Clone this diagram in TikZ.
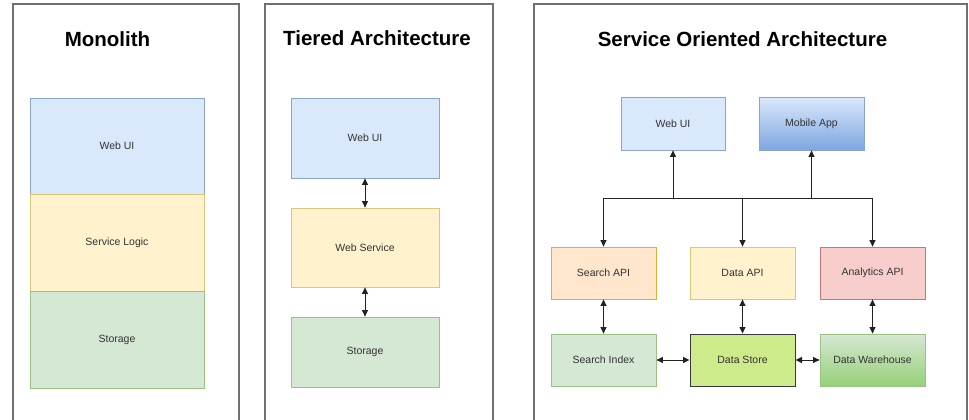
\documentclass[tikz,border=0pt]{standalone}
\usepackage{fontspec}
\setmainfont{Liberation Sans}
\usetikzlibrary{arrows.meta}
\definecolor{txt}{HTML}{333333}
\definecolor{panelc}{HTML}{707070}
\definecolor{bluef}{HTML}{DAE8FC}\definecolor{blues}{HTML}{6C8EBF}
\definecolor{bluedark}{HTML}{7EA6E0}
\definecolor{yelf}{HTML}{FFF2CC}\definecolor{yels}{HTML}{D6B656}
\definecolor{grnf}{HTML}{D5E8D4}\definecolor{grns}{HTML}{82B366}
\definecolor{grndark}{HTML}{97D077}
\definecolor{orf}{HTML}{FFE6CC}\definecolor{ors}{HTML}{D79B00}
\definecolor{redf}{HTML}{F8CECC}\definecolor{reds}{HTML}{B85450}
\definecolor{limef}{HTML}{CDEB8B}\definecolor{limes}{HTML}{36393D}
\definecolor{arrc}{HTML}{222222}
\begin{document}
\begin{tikzpicture}[x=1pt,y=-1pt,
  panel/.style={draw=panelc, line width=1.2pt},
  ttl/.style={font=\fontsize{20.5}{24}\selectfont\bfseries, text=black, anchor=base},
  box/.style={draw, line width=0.8pt, font=\fontsize{10.5}{12}\selectfont, text=txt, inner sep=0pt},
  bb/.style={box, fill=bluef, draw=blues!80},
  yb/.style={box, fill=yelf, draw=yels!80},
  gb/.style={box, fill=grnf, draw=grns!80},
  ob/.style={box, fill=orf, draw=ors!80},
  rb/.style={box, fill=redf, draw=reds!80},
  arr/.style={draw=arrc, line width=0.9pt, -{Triangle[length=6.5pt,width=6pt]}},
  darr/.style={draw=arrc, line width=0.9pt, {Triangle[length=6.5pt,width=6pt]}-{Triangle[length=6.5pt,width=6pt]}},
  bus/.style={draw=arrc, line width=0.9pt}
]
\useasboundingbox[fill=white] (0,0) rectangle (969,420);
% panels
\draw[panel] (13,421) -- (13,4) -- (239,4) -- (239,421);
\draw[panel] (265,421) -- (265,4) -- (493,4) -- (493,421);
\draw[panel] (534,421) -- (534,4) -- (967,4) -- (967,421);
% titles
\node[ttl] (t1) at (107.5,47) {Monolith};
\node[ttl] (t2) at (377,46) {Tiered Architecture};
\node[ttl] (t3) at (742.5,47) {Service Oriented Architecture};
% monolith
\node[bb, minimum width=174pt, minimum height=96pt] (m1) at (117,146) {Web UI};
\node[yb, minimum width=174pt, minimum height=97pt] (m2) at (117,242.5) {Service Logic};
\node[gb, minimum width=174pt, minimum height=97pt] (m3) at (117,339.5) {Storage};
% tiered
\node[bb, minimum width=148pt, minimum height=80pt] (a1) at (365,138) {Web UI};
\node[yb, minimum width=148pt, minimum height=79pt] (a2) at (365,247.5) {Web Service};
\node[gb, minimum width=148pt, minimum height=70pt] (a3) at (365,352) {Storage};
\draw[darr] (a1) -- (a2);
\draw[darr] (a2) -- (a3);
% SOA
\node[bb, minimum width=104pt, minimum height=53pt] (webui) at (673,123.5) {Web UI};
\node[box, draw=blues!80, top color=bluef, bottom color=bluedark, minimum width=105pt, minimum height=53pt] (mobile) at (811.5,123.5) {Mobile App};
\node[ob, minimum width=105pt, minimum height=52pt] (sapi) at (603.5,273) {Search API};
\node[yb, minimum width=105pt, minimum height=52pt] (dapi) at (742.5,273) {Data API};
\node[rb, minimum width=105pt, minimum height=52pt] (aapi) at (872.5,273) {Analytics API};
\node[gb, minimum width=105pt, minimum height=52pt] (sidx) at (603.5,360) {Search Index};
\node[box, fill=limef, draw=limes, line width=1pt, minimum width=105pt, minimum height=52pt] (dstore) at (742.5,360) {Data Store};
\node[box, draw=grns!80, top color=grnf, bottom color=grndark, minimum width=105pt, minimum height=52pt] (dwh) at (872.5,360) {Data Warehouse};
\coordinate (busy) at (0,198);
\draw[bus] (sapi.north |- busy) -- (aapi.north |- busy);
\draw[arr] (webui.south |- busy) -- (webui.south);
\draw[arr] (mobile.south |- busy) -- (mobile.south);
\draw[arr] (sapi.north |- busy) -- (sapi.north);
\draw[arr] (dapi.north |- busy) -- (dapi.north);
\draw[arr] (aapi.north |- busy) -- (aapi.north);
\draw[darr] (sapi) -- (sidx);
\draw[darr] (dapi) -- (dstore);
\draw[darr] (aapi) -- (dwh);
\draw[darr] (sidx) -- (dstore);
\draw[darr] (dstore) -- (dwh);
\end{tikzpicture}
\end{document}
